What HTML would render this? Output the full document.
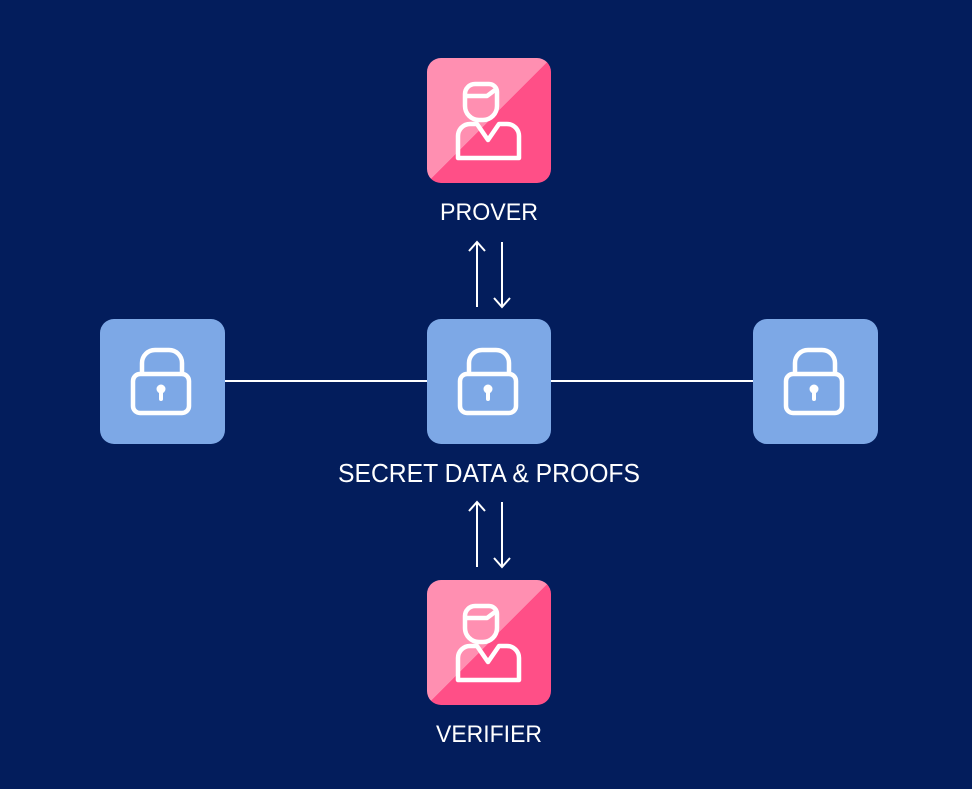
<!DOCTYPE html>
<html><head><meta charset="utf-8"><style>
html,body{margin:0;padding:0;background:#031d5c;}
svg{display:block}
text{font-family:"Liberation Sans",sans-serif;fill:#fff;}
</style></head><body>
<svg width="972" height="789" viewBox="0 0 972 789" xmlns="http://www.w3.org/2000/svg">
<defs>
<linearGradient id="pk" x1="0" y1="0" x2="1" y2="1">
<stop offset="0.5" stop-color="#ff8fb1"/><stop offset="0.5" stop-color="#ff4f87"/>
</linearGradient>
<g id="lock">
<rect x="33" y="55" width="56" height="39" rx="7" fill="none" stroke="#fff" stroke-width="4.5"/>
<path d="M42 55 V44 A13 13 0 0 1 55 31 H69 A13 13 0 0 1 82 44 V55" fill="none" stroke="#fff" stroke-width="4.5"/>
<circle cx="61" cy="70" r="4.5" fill="#fff"/>
<rect x="59" y="70" width="4" height="12" rx="2" fill="#fff"/>
</g>
<g id="person" fill="none" stroke="#fff" stroke-width="4.5" stroke-linejoin="round">
<path d="M38 48 V36 A10 10 0 0 1 48 26 H62 A8 8 0 0 1 70 34 V48 A14 14 0 0 1 56 62 H52 A14 14 0 0 1 38 48 Z"/>
<path d="M38 38 H60 L68 32"/>
<path d="M31 100 V78 A12 12 0 0 1 43 66 H50 L61 82 L72 66 H80 A12 12 0 0 1 92 78 V100 Z"/>
</g>
</defs>
<line x1="225" y1="381" x2="427" y2="381" stroke="#fff" stroke-width="2"/>
<line x1="551" y1="381" x2="753" y2="381" stroke="#fff" stroke-width="2"/>
<rect x="427" y="58" width="124" height="125" rx="14" fill="url(#pk)"/>
<g transform="translate(427,58)"><use href="#person"/></g>
<rect x="427" y="580" width="124" height="125" rx="14" fill="url(#pk)"/>
<g transform="translate(427,580)"><use href="#person"/></g>
<rect x="100" y="319" width="125" height="125" rx="14" fill="#7da8e6"/>
<g transform="translate(100,319)"><use href="#lock"/></g>
<rect x="427" y="319" width="124" height="125" rx="14" fill="#7da8e6"/>
<g transform="translate(427,319)"><use href="#lock"/></g>
<rect x="753" y="319" width="125" height="125" rx="14" fill="#7da8e6"/>
<g transform="translate(753,319)"><use href="#lock"/></g>
<g stroke="#fff" stroke-width="2" fill="none">
<path d="M477 307 V242 M469 251 L477 242 L485 251"/>
<path d="M502 242 V307 M494 298 L502 307 L510 298"/>
<path d="M477 567 V502 M469 511 L477 502 L485 511"/>
<path d="M502 502 V567 M494 558 L502 567 L510 558"/>
</g>
<text x="489" y="220" font-size="24" text-anchor="middle" textLength="98" lengthAdjust="spacingAndGlyphs">PROVER</text>
<text x="489" y="482" font-size="26" text-anchor="middle" textLength="302" lengthAdjust="spacingAndGlyphs">SECRET DATA &amp; PROOFS</text>
<text x="489" y="742" font-size="24" text-anchor="middle" textLength="106" lengthAdjust="spacingAndGlyphs">VERIFIER</text>
</svg>
</body></html>
